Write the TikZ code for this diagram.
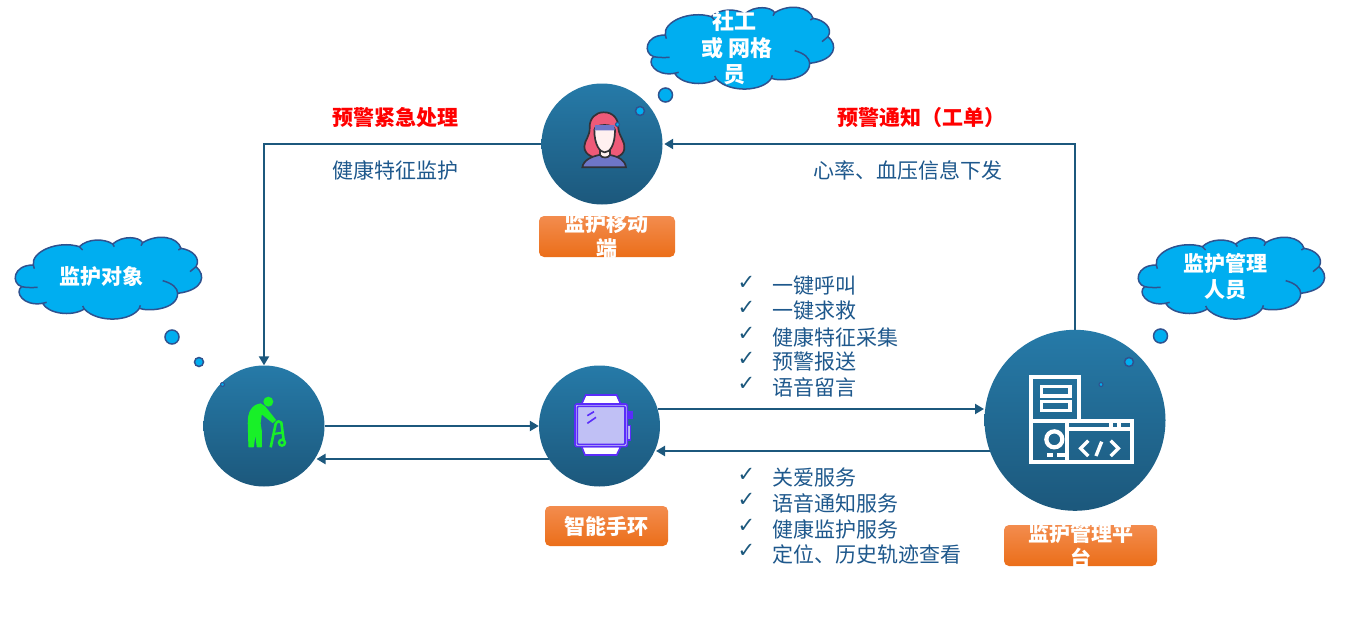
\documentclass[tikz,border=0pt]{standalone}
\usepackage{fontspec}
\setmainfont{Noto Sans CJK SC}
\newfontfamily\checkfont{DejaVu Sans}
\usetikzlibrary{arrows.meta}
\definecolor{linkblue}{RGB}{28,88,125}
\definecolor{discTop}{RGB}{38,122,168}
\definecolor{discBottom}{RGB}{28,88,124}
\definecolor{textblue}{RGB}{30,88,140}
\definecolor{skyfill}{RGB}{0,174,240}
\definecolor{skyedge}{RGB}{47,82,143}
\definecolor{tagTop}{RGB}{243,140,78}
\definecolor{tagBottom}{RGB}{235,110,25}
\definecolor{walkergreen}{RGB}{24,240,40}
\definecolor{hairpink}{RGB}{238,90,120}
\definecolor{iconline}{RGB}{50,50,55}
\definecolor{shirt}{RGB}{110,118,200}
\definecolor{facepale}{RGB}{255,240,240}
\definecolor{watchline}{RGB}{90,45,250}
\definecolor{watchglass}{RGB}{192,192,245}
\tikzset{
  disc/.style={circle,inner sep=0pt,shade,top color=discTop,bottom color=discBottom},
  tag/.style={rounded corners=5pt,inner sep=0pt,shade,top color=tagTop,bottom color=tagBottom},
  tagtext/.style={text=white,font=\fontsize{21}{25}\selectfont\bfseries,align=center,inner sep=0pt},
  linkline/.style={draw=linkblue,line width=2.2pt,-{Triangle[length=9pt,width=10pt]}},
  cloudtext/.style={text=white,font=\fontsize{21}{26.5}\selectfont\bfseries,align=center,inner sep=0pt},
  redtitle/.style={text=red,font=\fontsize{21}{25}\selectfont\bfseries,inner sep=0pt},
  bluetext/.style={text=textblue,font=\fontsize{21}{25}\selectfont,inner sep=0pt},
  listtext/.style={bluetext,anchor=west},
  tick/.style={text=linkblue,font=\checkfont\fontsize{21}{24}\selectfont,inner sep=0pt},
  dot/.style={circle,inner sep=0pt,fill=skyfill,draw=skyedge,line width=1.5pt},
  cloudbody/.style={fill=skyfill,draw=skyedge,line width=1.5pt,line join=round},
  cloudseam/.style={draw=skyedge,line width=1.5pt},
  icongrid/.style={x=0.33333pt,y=-0.33333pt},
  pale/.style={draw=white,line width=4.2pt}
}
% Thought cloud, outlined in a local grid at three units per point
\newcommand{\thoughtcloud}[2]{%
  \begin{scope}[icongrid,shift={(#1pt,-#2pt)}]
    \path[cloudbody] (97,105)
      .. controls (90,65) and (170,30) .. (235,50)
      .. controls (260,25) and (310,25) .. (335,42)
      .. controls (365,15) and (415,20) .. (425,38)
      .. controls (470,10) and (530,20) .. (540,55)
      .. controls (575,60) and (600,85) .. (585,110)
      .. controls (615,135) and (610,180) .. (530,190)
      .. controls (530,240) and (440,245) .. (415,235)
      .. controls (390,275) and (290,280) .. (250,237)
      .. controls (210,262) and (140,250) .. (125,220)
      .. controls (65,230) and (40,185) .. (62,170)
      .. controls (30,160) and (35,105) .. (97,105) -- cycle;
    \path[cloudseam] (62,170) .. controls (75,173) and (95,173) .. (110,172);
    \path[cloudseam] (485,152) .. controls (515,160) and (530,175) .. (530,190);
    \path[cloudseam] (585,110) -- (567,125);
    \path[cloudseam] (540,55) -- (532,60);
    \path[cloudseam] (425,38) -- (420,47);
    \path[cloudseam] (335,42) -- (340,50);
    \path[cloudseam] (235,50) -- (245,60);
    \path[cloudseam] (125,220) -- (137,217);
    \path[cloudseam] (250,237) -- (245,228);
    \path[cloudseam] (415,235) -- (418,226);
    \path[cloudseam] (97,105) -- (100,116);
  \end{scope}}
\begin{document}
\begin{tikzpicture}[x=1pt,y=-1pt]
\useasboundingbox (0,0) rectangle (1365,634);

% Round stations
\node[disc,minimum size=121pt] (mobile) at (602,144) {};
\node[disc,minimum size=121pt] (elder) at (264,426) {};
\node[disc,minimum size=121pt] (watch) at (599.5,426) {};
\node[disc,minimum size=181pt] (platform) at (1075,420.3) {};

% Where the offset links meet the rims
\coordinate (watchLow) at (548.8,459);
\coordinate (elderLow) at (316.5,459);
\coordinate (watchHigh) at (657.6,409);
\coordinate (platformHigh) at (984,409);
\coordinate (platformLow) at (989.9,451);
\coordinate (watchBack) at (656,451);

% Connectors
\draw[linkline] (mobile.west) -| (elder.north);
\draw[linkline,shorten >=1.5pt] (platform.north) |- (mobile.east);
\draw[linkline] (elder.east) -- (watch.west);
\draw[linkline] (watchLow) -- (elderLow);
\draw[linkline] (watchHigh) -- (platformHigh);
\draw[linkline] (platformLow) -- (watchBack);

% Caretaker icon
\begin{scope}[icongrid,shift={(575pt,-105pt)},line width=1.7pt,draw=iconline]
  \path[draw,fill=hairpink] (85,22) .. controls (115,20) and (132,45) .. (130,70)
    .. controls (132,95) and (152,110) .. (148,132)
    .. controls (145,155) and (115,162) .. (90,160)
    .. controls (60,162) and (28,152) .. (28,125)
    .. controls (28,105) and (46,95) .. (44,65)
    .. controls (44,40) and (62,22) .. (85,22) -- cycle;
  \path[draw,fill=shirt] (22,187) .. controls (25,165) and (50,155) .. (72,150)
    -- (105,150) .. controls (130,155) and (150,165) .. (153,187) -- cycle;
  \path[draw,fill=facepale] (75,135) -- (75,150) .. controls (80,160) and (100,160) .. (105,150) -- (105,135) -- cycle;
  \path[draw,fill=facepale] (58,75) .. controls (58,120) and (75,142) .. (89,142)
    .. controls (105,142) and (120,120) .. (120,75)
    .. controls (120,55) and (58,55) .. (58,75) -- cycle;
  \path[fill=shirt] (60,60) -- (118,60) -- (119,76) -- (59,76) -- cycle;
\end{scope}

% Walking-frame icon
\begin{scope}[icongrid,shift={(240pt,-390pt)}]
  \fill[walkergreen] (85,35) circle[radius=15];
  \path[fill=walkergreen,draw=walkergreen,line width=1.2pt,line join=round]
    (62,42) .. controls (38,45) and (24,65) .. (25,100)
    -- (27,170) -- (40,170) -- (46,122) -- (52,170) -- (64,170) -- (64,125) -- (60,100) -- (64,70)
    -- (98,97) -- (106,90) -- (74,50) -- cycle;
  \draw[walkergreen,line width=2.6pt,line join=round]
    (92,172) -- (107,102) .. controls (111,92) and (120,92) .. (124,98) -- (131,150);
  \draw[walkergreen,line width=2.2pt] (100,132) -- (128,128);
  \draw[walkergreen,line width=2.4pt] (126,158) circle[radius=9];
\end{scope}

% Wristwatch icon
\begin{scope}[icongrid,shift={(570pt,-390pt)},line width=1.6pt,draw=watchline]
  \path[draw,fill=white] (35,42) -- (47,15) -- (140,15) -- (152,42) -- cycle;
  \path[draw,fill=white] (35,170) -- (45,195) -- (140,195) -- (152,170) -- cycle;
  \path[fill=watchline] (172,62) rectangle (190,88);
  \path[draw,fill=watchglass] (172,107) rectangle (181,150);
  \path[draw,fill=watchglass,rounded corners=2pt] (15,42) rectangle (172,170);
  \path[draw,rounded corners=1pt] (22,49) rectangle (165,163);
  \path[draw] (52,77) -- (72,65);
  \path[draw] (52,100) -- (78,82);
\end{scope}

% Platform icon
\begin{scope}[icongrid,shift={(1020pt,-370pt)}]
  \draw[pale] (32,152) rectangle (335,275);
  \draw[pale] (32,152) -- (32,22) -- (178,22) -- (178,152);
  \draw[pale,line width=3.4pt] (65,50) rectangle (150,78);
  \draw[pale,line width=3.4pt] (65,95) rectangle (150,122);
  \draw[pale] (140,152) -- (140,275);
  \draw[pale] (140,178) -- (335,178);
  \draw[pale] (272,152) -- (272,178);
  \draw[pale] (298,152) -- (298,178);
  \draw[pale] (103,208) circle[radius=24];
  \fill[white] (80,250) rectangle (100,262);
  \fill[white] (112,250) rectangle (135,262);
  \draw[pale,line width=3.4pt] (205,212) -- (182,235) -- (205,258);
  \draw[pale,line width=3.4pt] (245,215) -- (228,258);
  \draw[pale,line width=3.4pt] (272,212) -- (295,235) -- (272,258);
\end{scope}

% Thought clouds with their trailing bubbles
\thoughtcloud{1}{230}
\thoughtcloud{1124}{230}
\thoughtcloud{633}{0}
\node[dot,minimum size=14pt] (elderA) at (172,337) {};
\node[dot,minimum size=9pt] (elderB) at (199,362) {};
\node[dot,minimum size=4pt,line width=1.1pt] (elderC) at (222.5,384.5) {};
\node[dot,minimum size=14pt] (mobileA) at (665.5,95) {};
\node[dot,minimum size=9pt] (mobileB) at (640,111) {};
\node[dot,minimum size=4pt,line width=1.1pt] (mobileC) at (617.5,124.5) {};
\node[dot,minimum size=14pt] (platformA) at (1160.5,336) {};
\node[dot,minimum size=9pt] (platformB) at (1129,362) {};
\node[dot,minimum size=4pt,line width=1.1pt] (platformC) at (1101,384.5) {};
\node[cloudtext] (cloudElder) at (101.5,277) {监护对象};
\node[cloudtext] (cloudPlatform) at (1225,276.5) {监护管理\\人员};
\node[cloudtext,font=\fontsize{22}{26.5}\selectfont\bfseries] (cloudMobile) at (734.5,48) {社工\\\hspace*{5pt}或 网格\\员};

% Orange name tags; their captions run over the edges in white
\node[tag,minimum width=136pt,minimum height=41pt] (tagMobile) at (607,236.5) {};
\node[tagtext] (tagMobileText) at (606.5,236.5) {监护移动\\端};
\node[tag,minimum width=123pt,minimum height=40pt] (tagWatch) at (606.5,526) {};
\node[tagtext] (tagWatchText) at (606.5,526) {智能手环};
\node[tag,minimum width=153pt,minimum height=41pt] (tagPlatform) at (1080.5,545.5) {};
\node[tagtext] (tagPlatformText) at (1080.5,545.5) {监护管理平\\台};

% Flow captions
\node[redtitle] (alarmLeft) at (395,118) {预警紧急处理};
\node[redtitle] (alarmRight) at (921,118) {预警通知（工单）};
\node[bluetext] (capLeft) at (395,170) {健康特征监护};
\node[bluetext] (capRight) at (907.5,170) {心率、血压信息下发};

% Ticked feature lists
\foreach \row/\ypos/\label in {a/286/一键呼叫,b/311/一键求救,c/337/健康特征采集,d/362/预警报送,e/387/语音留言,
    f/478/关爱服务,g/503/语音通知服务,h/529/健康监护服务,i/554/定位、历史轨迹查看}{
  \node[tick] (tick\row) at (746.5,\ypos-3) {✓};
  \node[listtext] (item\row) at (772,\ypos) {\label};
}
\end{tikzpicture}
\end{document}
